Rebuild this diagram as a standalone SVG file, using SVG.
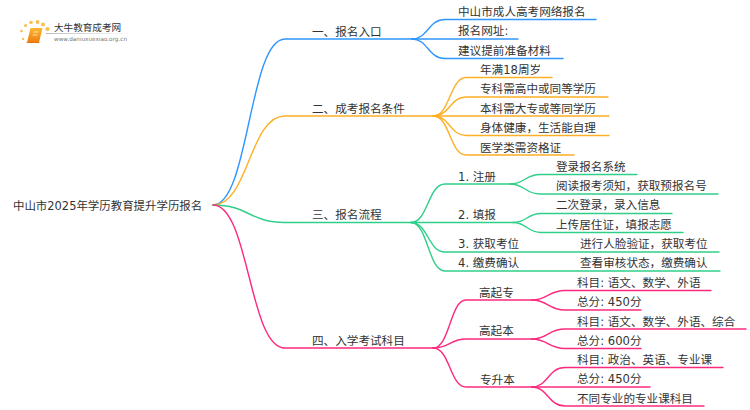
<svg xmlns="http://www.w3.org/2000/svg" width="750" height="410" viewBox="0 0 750 410">
<defs>
<linearGradient id="bk" x1="0" y1="0" x2="0" y2="1"><stop offset="0" stop-color="#ffb52e"/><stop offset="1" stop-color="#ee7d10"/></linearGradient>
<linearGradient id="rule" x1="0" y1="0" x2="1" y2="0"><stop offset="0" stop-color="#bbbbbb"/><stop offset="1" stop-color="#ffffff"/></linearGradient>
</defs>
<style>
text{font-family:"DejaVu Sans","Noto Sans CJK SC",sans-serif;font-size:11.6px;fill:#333333}
path{fill:none;stroke-width:1.4;stroke-linecap:round}
.b path{stroke:#2f96ff}.o path{stroke:#fdb025}.g path{stroke:#2fcf8a}.p path{stroke:#fb2a7f}
.d{fill:#fbc04a}
</style>
<g id="logo">
<circle class="d" cx="23" cy="39" r="1.2"/><circle class="d" cx="21.500" cy="31" r="1.300"/><circle class="d" cx="25.500" cy="25.500" r="1.500"/><circle class="d" cx="31" cy="22.500" r="1.800"/><circle class="d" cx="37.500" cy="22" r="1.900"/><circle class="d" cx="43" cy="24.500" r="2"/><circle class="d" cx="47.500" cy="29" r="2.100"/>
<path d="M30.500 28H42.500L39 42.500H27Z" style="fill:url(#bk);stroke:none"/>
<path d="M27 42.500H39" style="stroke:#e8760c;stroke-width:1"/>
<path d="M33.500 32H38M33 35H37" style="stroke:#ffe3ae;stroke-width:1"/>
<rect x="46" y="33" width="86" height="1" fill="url(#rule)"/>
<text x="54" y="31" style="font-size:9.600px">大牛教育成考网</text>
<text x="54" y="41" style="font-size:5.700px;fill:#777777">www.daniuxuexiao.org.cn</text>
</g>
<g id="connectors">
<g class="b">
<path d="M213 205C249 205 249 39 285 39H412"/>
<path d="M412 39C428 39 428 19.500 445 19.500H596"/>
<path d="M412 39H518"/>
<path d="M412 39C428 39 428 58.500 445 58.500H563"/>
</g>
<g class="o">
<path d="M213 205C249 205 249 116 285 116H433"/>
<path d="M433 116C450 116 450 77.500 466 77.500H552"/>
<path d="M433 116C450 116 450 97 466 97H608"/>
<path d="M433 116H609"/>
<path d="M433 116C450 116 450 135.500 466 135.500H609"/>
<path d="M433 116C450 116 450 155 466 155H574"/>
</g>
<g class="g">
<path d="M213 205C249 205 249 222.500 285 222.500H411"/>
<path d="M411 222.500C428 222.500 428 184 445 184H510"/>
<path d="M510 184C525 184 525 174.500 540 174.500H637"/>
<path d="M510 184C525 184 525 194 540 194H718"/>
<path d="M411 222.500H513"/>
<path d="M513 222.500C527 222.500 527 213.500 541 213.500H672"/>
<path d="M513 222.500C527 222.500 527 232.500 541 232.500H683"/>
<path d="M411 222.500C428 222.500 428 252 445 252H719"/>
<path d="M411 222.500C428 222.500 428 271 445 271H720"/>
</g>
<g class="p">
<path d="M213 205C249 205 249 348 285 348H433"/>
<path d="M433 348C450 348 450 300 466 300H532"/>
<path d="M532 300C548 300 548 290.500 565 290.500H711"/>
<path d="M532 300C548 300 548 310 565 310H641"/>
<path d="M433 348C450 348 450 339 466 339H532"/>
<path d="M532 339C548 339 548 329 565 329H746"/>
<path d="M532 339C548 339 548 348.500 565 348.500H641"/>
<path d="M433 348C450 348 450 387 466 387H532"/>
<path d="M532 387C548 387 548 367.500 565 367.500H723"/>
<path d="M532 387H650"/>
<path d="M532 387C548 387 548 406 565 406H704"/>
</g>
</g>
<g id="root"><text x="13" y="210" style="font-size:11.450px">中山市2025年学历教育提升学历报名</text></g>
<g id="n1"><text x="312" y="36">一、报名入口</text></g>
<g id="n1-1"><text x="458" y="16">中山市成人高考网络报名</text></g>
<g id="n1-2"><text x="458" y="35">报名网址:</text></g>
<g id="n1-3"><text x="458" y="55">建议提前准备材料</text></g>
<g id="n2"><text x="312" y="113">二、成考报名条件</text></g>
<g id="n2-1"><text x="480" y="74">年满18周岁</text></g>
<g id="n2-2"><text x="480" y="93">专科需高中或同等学历</text></g>
<g id="n2-3"><text x="480" y="113">本科需大专或等同学历</text></g>
<g id="n2-4"><text x="480" y="132">身体健康，生活能自理</text></g>
<g id="n2-5"><text x="480" y="152">医学类需资格证</text></g>
<g id="n3"><text x="312" y="219">三、报名流程</text></g>
<g id="n3-1"><text x="458" y="181">1. 注册</text></g>
<g id="n3-1-1"><text x="556" y="171">登录报名系统</text></g>
<g id="n3-1-2"><text x="556" y="190">阅读报考须知，获取预报名号</text></g>
<g id="n3-2"><text x="458" y="219">2. 填报</text></g>
<g id="n3-2-1"><text x="556" y="209">二次登录，录入信息</text></g>
<g id="n3-2-2"><text x="556" y="229">上传居住证，填报志愿</text></g>
<g id="n3-3"><text x="458" y="248">3. 获取考位</text></g>
<g id="n3-3-1"><text x="580" y="248">进行人脸验证，获取考位</text></g>
<g id="n3-4"><text x="458" y="267">4. 缴费确认</text></g>
<g id="n3-4-1"><text x="580" y="267">查看审核状态，缴费确认</text></g>
<g id="n4"><text x="312" y="345">四、入学考试科目</text></g>
<g id="n4-1"><text x="479" y="297">高起专</text></g>
<g id="n4-1-1"><text x="577" y="287">科目: 语文、数学、外语</text></g>
<g id="n4-1-2"><text x="577" y="306">总分: 450分</text></g>
<g id="n4-2"><text x="479" y="335">高起本</text></g>
<g id="n4-2-1"><text x="577" y="326">科目: 语文、数学、外语、综合</text></g>
<g id="n4-2-2"><text x="577" y="345">总分: 600分</text></g>
<g id="n4-3"><text x="480" y="384">专升本</text></g>
<g id="n4-3-1"><text x="577" y="364">科目: 政治、英语、专业课</text></g>
<g id="n4-3-2"><text x="577" y="383">总分: 450分</text></g>
<g id="n4-3-3"><text x="577" y="403">不同专业的专业课科目</text></g>
</svg>
